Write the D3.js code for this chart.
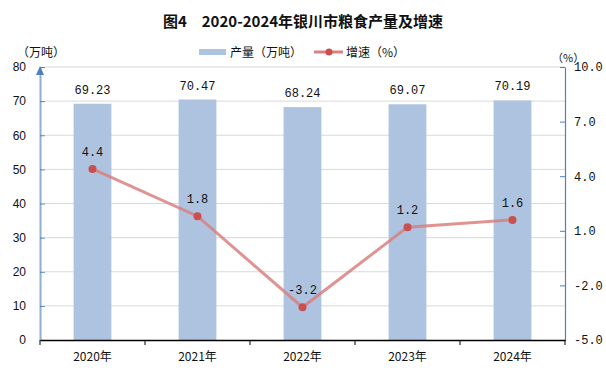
<!DOCTYPE html>
<html><head><meta charset="utf-8">
<script src="https://cdn.jsdelivr.net/npm/d3@7"></script>
<style>body{margin:0;background:#fff}svg{display:block}</style>
</head><body>
<script>
const years = ["2020年","2021年","2022年","2023年","2024年"];
const output = [69.23, 70.47, 68.24, 69.07, 70.19];
const growth = [4.4, 1.8, -3.2, 1.2, 1.6];
const leftTicks = [0,10,20,30,40,50,60,70,80];
const rightTicks = [-5,-2,1,4,7,10];

const W=606,H=378;
const m={l:40,r:565,t:67,b:340};
const svg=d3.select("body").append("svg").attr("width",W).attr("height",H);
const numFont="'Liberation Mono','DejaVu Sans Mono',monospace";
const cjk="'Noto Sans CJK SC',sans-serif";

const x=d3.scaleBand().domain(years).range([m.l,m.r]);
const yL=d3.scaleLinear().domain([0,80]).range([m.b,m.t]);
const yR=d3.scaleLinear().domain([-5,10]).range([m.b,m.t]);

// title
svg.append("text").attr("x",303).attr("y",27).attr("text-anchor","middle")
 .attr("font-family",cjk).attr("font-weight","bold").attr("font-size",15).attr("fill","#111")
 .text("图4　2020-2024年银川市粮食产量及增速");

// gridlines
svg.append("g").selectAll("line").data(leftTicks.filter(d=>d>0)).join("line")
 .attr("x1",m.l+5).attr("x2",m.r).attr("y1",d=>yL(d)).attr("y2",d=>yL(d))
 .attr("stroke","#d9d9d9").attr("stroke-width",1);

// bars
svg.append("g").selectAll("rect").data(output).join("rect")
 .attr("x",(d,i)=>x(years[i])+x.bandwidth()*0.32).attr("width",x.bandwidth()*0.36)
 .attr("y",d=>yL(d)).attr("height",d=>m.b-yL(d)).attr("fill","#adc3df");

// bar labels
svg.append("g").selectAll("text").data(output).join("text")
 .attr("x",(d,i)=>x(years[i])+x.bandwidth()/2).attr("y",d=>yL(d)-10)
 .attr("text-anchor","middle").attr("font-family",numFont).attr("font-size",12).attr("fill","#111")
 .text(d=>d.toFixed(2));

// left axis
const gL=svg.append("g").attr("transform",`translate(${m.l},0)`)
 .call(d3.axisLeft(yL).tickValues(leftTicks).tickSizeInner(-5).tickSizeOuter(0).tickPadding(14));
gL.select(".domain").attr("stroke","#8eaed6").attr("stroke-width",2);
gL.selectAll(".tick line").attr("stroke","#4f7fc0");
gL.selectAll(".tick text").attr("font-family","'Liberation Sans',Arial,sans-serif").attr("font-size",12).attr("fill","#111");
gL.selectAll(".tick").filter(d=>d===0).select("line").remove();
// arrow
svg.append("path").attr("d",`M${m.l-4},${m.t+8}L${m.l},${m.t-1}L${m.l+4},${m.t+8}Z`).attr("fill","#4f7fc0");

// right axis
const gR=svg.append("g").attr("transform",`translate(${m.r},0)`)
 .call(d3.axisRight(yR).tickValues(rightTicks).tickSizeInner(-5).tickSizeOuter(0).tickPadding(9).tickFormat(d3.format(".1f")));
gR.select(".domain").attr("stroke","#4f7fc0").attr("stroke-width",1.2);
gR.selectAll(".tick line").attr("stroke","#4f7fc0");
gR.selectAll(".tick text").attr("font-family",numFont).attr("font-size",12).attr("fill","#111").text(d=>d3.format(".1f")(d).replace("−","-"));

// bottom axis
const gB=svg.append("g").attr("transform",`translate(0,${m.b})`)
 .call(d3.axisBottom(x).tickSize(0).tickPadding(10));
gB.select(".domain").attr("stroke","#000").attr("stroke-width",1.5);
gB.selectAll(".tick text").attr("font-family",cjk).attr("font-size",12).attr("fill","#111").attr("dy","0.9em");
svg.append("g").selectAll("line").data(years).join("line")
 .attr("x1",d=>x(d)).attr("x2",d=>x(d)).attr("y1",m.b).attr("y2",m.b+5).attr("stroke","#000");
svg.append("line").attr("x1",m.r).attr("x2",m.r).attr("y1",m.b).attr("y2",m.b+5).attr("stroke","#000");

// line
const line=d3.line().x((d,i)=>x(years[i])+x.bandwidth()/2).y(d=>yR(d));
svg.append("path").datum(growth).attr("d",line).attr("fill","none")
 .attr("stroke","#d98080").attr("stroke-width",3).attr("stroke-opacity",0.85);
svg.append("g").selectAll("circle").data(growth).join("circle")
 .attr("cx",(d,i)=>x(years[i])+x.bandwidth()/2).attr("cy",d=>yR(d)).attr("r",4).attr("fill","#c9504f");
svg.append("g").selectAll("text").data(growth).join("text")
 .attr("x",(d,i)=>x(years[i])+x.bandwidth()/2).attr("y",d=>yR(d)-13)
 .attr("text-anchor","middle").attr("font-family",numFont).attr("font-size",12).attr("fill","#111")
 .text(d=>d.toFixed(1));

// units
svg.append("text").attr("x",17).attr("y",57).attr("font-family",cjk).attr("font-size",12).attr("fill","#111").text("（万吨）");
svg.append("text").attr("x",552).attr("y",62).attr("font-family",cjk).attr("font-size",11).attr("fill","#111").text("（%）");

// legend
const lg=svg.append("g");
lg.append("rect").attr("x",199).attr("y",49).attr("width",27).attr("height",6).attr("fill","#adc3df");
lg.append("text").attr("x",230).attr("y",57).attr("font-family",cjk).attr("font-size",12).attr("fill","#111").text("产量（万吨）");
lg.append("line").attr("x1",314).attr("x2",343).attr("y1",52).attr("y2",52).attr("stroke","#d98080").attr("stroke-width",3);
lg.append("circle").attr("cx",329).attr("cy",52).attr("r",3.5).attr("fill","#c9504f");
lg.append("text").attr("x",346).attr("y",57).attr("font-family",cjk).attr("font-size",12).attr("fill","#111").text("增速（%）");
</script>
</body></html>
